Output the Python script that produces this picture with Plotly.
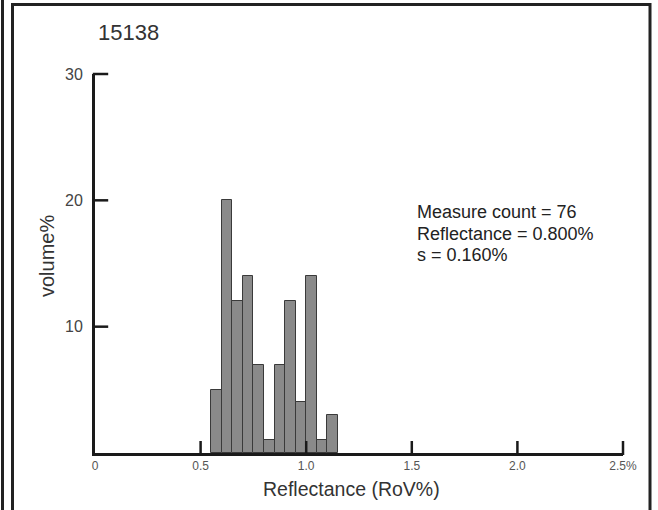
import plotly.graph_objects as go

# Histogram of vitrinite reflectance measurements, sample 15138
sample_id = "15138"
bin_starts = [0.55, 0.60, 0.65, 0.70, 0.75, 0.80, 0.85, 0.90, 0.95, 1.00, 1.05, 1.10]
bin_width = 0.05
volume_pct = [5, 20, 12, 14, 7, 1, 7, 12, 4, 14, 1, 3]

x_tick_vals = [0, 0.5, 1.0, 1.5, 2.0, 2.5]
x_tick_text = ["0", "0.5", "1.0", "1.5", "2.0", "2.5%"]
y_tick_vals = [10, 20, 30]

stats_lines = ["Measure count = 76", "Reflectance = 0.800%", "s = 0.160%"]

W, H = 658, 510
L, R, T, B = 95, 35, 74, 57
PW, PH = W - L - R, H - T - B
X_RANGE = [0, 2.5]
Y_RANGE = [0, 30]


def px(xp):
    return (xp - L) / PW


def py(yp):
    return 1 - (yp - T) / PH


FONT = "Liberation Sans, Arial, sans-serif"
INK = "#1a1a1a"

bin_centers = [s + bin_width / 2 for s in bin_starts]

fig = go.Figure(
    go.Bar(
        x=bin_centers,
        y=volume_pct,
        width=bin_width,
        marker=dict(color="#8a8a8a", line=dict(color="#3a3a3a", width=1)),
        showlegend=False,
        hoverinfo="x+y",
    )
)

# Inward tick marks as line-shaped markers (not clipped at the plot edge)
Y_TICK_PX, X_TICK_PX = 11, 10
y_tick_mid = X_RANGE[0] + (Y_TICK_PX / 2) * (X_RANGE[1] - X_RANGE[0]) / PW
x_tick_mid = Y_RANGE[0] + (X_TICK_PX / 2) * (Y_RANGE[1] - Y_RANGE[0]) / PH
fig.add_trace(
    go.Scatter(
        x=[y_tick_mid] * len(y_tick_vals), y=y_tick_vals, mode="markers",
        marker=dict(symbol="line-ew", size=Y_TICK_PX, line=dict(color=INK, width=2.5)),
        cliponaxis=False, hoverinfo="skip", showlegend=False,
    )
)
fig.add_trace(
    go.Scatter(
        x=x_tick_vals[1:], y=[x_tick_mid] * (len(x_tick_vals) - 1), mode="markers",
        marker=dict(symbol="line-ns", size=X_TICK_PX, line=dict(color=INK, width=2.5)),
        cliponaxis=False, hoverinfo="skip", showlegend=False,
    )
)

fig.update_layout(
    width=W,
    height=H,
    margin=dict(l=L, r=R, t=T, b=B, pad=0),
    paper_bgcolor="white",
    plot_bgcolor="white",
    font=dict(family=FONT),
    bargap=0,
    xaxis=dict(
        range=X_RANGE,
        tickmode="array",
        tickvals=x_tick_vals,
        ticktext=x_tick_text,
        ticks="",
        showline=True,
        linewidth=3,
        linecolor=INK,
        showgrid=False,
        zeroline=False,
        tickfont=dict(size=12, color="#555555", family=FONT),
        ticklabelstandoff=0,
    ),
    yaxis=dict(
        range=Y_RANGE,
        tickmode="array",
        tickvals=y_tick_vals,
        ticks="",
        showline=True,
        linewidth=3,
        linecolor=INK,
        showgrid=False,
        zeroline=False,
        tickfont=dict(size=16, color="#444444", family=FONT),
        ticklabelstandoff=6,
    ),
)

annotations = [
    dict(text=sample_id, x=px(96), y=py(32), xanchor="left", yanchor="middle",
         font=dict(size=22, color="#333333")),
    dict(text="volume%", x=px(47), y=py(256), xanchor="center", yanchor="middle",
         textangle=-90, font=dict(size=20, color="#333333")),
    dict(text="Reflectance (RoV%)", x=px(351), y=py(489), xanchor="center", yanchor="middle",
         font=dict(size=19.5, color="#333333")),
]
for i, line in enumerate(stats_lines):
    annotations.append(
        dict(text=line, x=px(415), y=py(212 + 21.5 * i), xanchor="left", yanchor="middle",
             font=dict(size=18, color="#222222"))
    )
for a in annotations:
    a.update(xref="paper", yref="paper", showarrow=False)
fig.update_layout(annotations=annotations)

# Panel frame and the edge of the neighbouring panel
frame = dict(color="#222222", width=3)
fig.update_layout(
    shapes=[
        dict(type="rect", xref="paper", yref="paper",
             x0=px(12.5), x1=px(650), y0=py(530), y1=py(4.5), line=frame),
        dict(type="line", xref="paper", yref="paper",
             x0=px(2.5), x1=px(2.5), y0=py(530), y1=py(-10), line=frame),
    ]
)

fig.write_html("out.html")
